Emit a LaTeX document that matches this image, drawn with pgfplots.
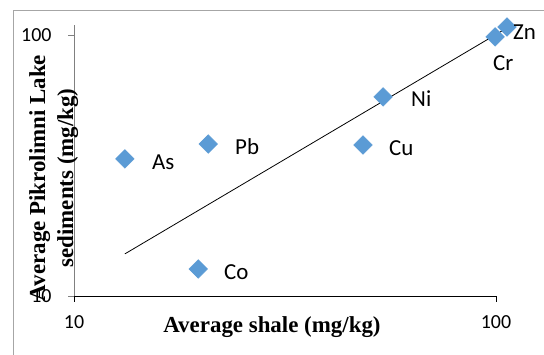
\documentclass[border=0pt]{standalone}
\usepackage{fontspec}
\setmainfont{Liberation Serif}
\newfontfamily\carlito{Carlito}
\usepackage{pgfplots}
\pgfplotsset{compat=1.18}
\definecolor{ptblue}{RGB}{91,155,213}
\begin{document}
\begin{tikzpicture}[x=1bp,y=1bp]
\useasboundingbox (0,0) rectangle (544,354);
\fill[white] (0,0) rectangle (544,354);
\draw[gray!70, line width=0.8bp] (13,-10) rectangle (560,344);
\begin{axis}[
  at={(74bp,58bp)}, anchor=south west,
  scale only axis, width=422bp, height=271bp,
  xmode=log, ymode=log,
  xmin=10, xmax=100, ymin=10, ymax=109.2,
  axis x line*=bottom, axis y line*=left,
  x axis line style={black, line width=1bp, -},
  y axis line style={gray, line width=0.8bp, -},
  xtick={10,100}, xticklabels={10,100},
  ytick={10,100}, yticklabels={10,100},
  xminorticks=false, yminorticks=false,
  tick align=outside, major tick length=6bp,
  x tick style={black, line width=0.8bp},
  y tick style={gray, line width=0.8bp},
  /pgf/number format/assume math mode=true,
  ticklabel style={font=\carlito\fontsize{20}{24}\selectfont},
  xticklabel style={yshift=-10bp},
  yticklabel style={xshift=-13bp},
  clip=false,
]
\addplot[only marks, mark=square*, mark size=6.6bp,
  mark options={rotate=45, fill=ptblue, draw=ptblue}]
  coordinates {(13.2,33.5) (20.8,38.2) (19.7,12.7) (48.4,37.9) (54.0,57.9) (99.5,98.3) (106.2,107.3)};
\addplot[black, line width=0.8bp, no marks] coordinates {(13.2,14.5) (106.2,106.4)};
\end{axis}
\begin{scope}[every node/.style={font=\carlito\fontsize{23}{27}\selectfont, inner sep=0pt, anchor=base west}]
\node at (152,354-169) {As};
\node at (235,354-154) {Pb};
\node at (224,354-279) {Co};
\node at (389,354-155) {Cu};
\node at (411,354-106) {Ni};
\node at (513,354-39) {Zn};
\node at (493,354-70) {Cr};
\end{scope}
\node[font=\bfseries\fontsize{23}{27}\selectfont, inner sep=0pt, anchor=base] at (272,22) {Average shale (mg/kg)};
\node[font=\bfseries\fontsize{23}{27}\selectfont, inner sep=0pt, anchor=base, rotate=90] at (45,176) {Average Pikrolimni Lake};
\node[font=\bfseries\fontsize{23}{27}\selectfont, inner sep=0pt, anchor=base, rotate=90] at (73,176) {sediments (mg/kg)};
\end{tikzpicture}
\end{document}
